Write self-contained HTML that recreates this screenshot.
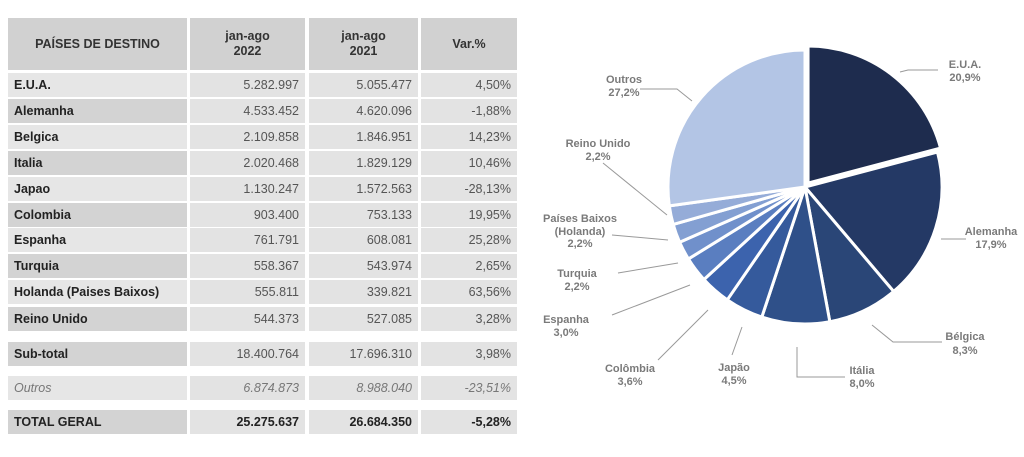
<!DOCTYPE html>
<html><head><meta charset="utf-8"><style>
body{margin:0;width:1024px;height:457px;background:#fff;font-family:"Liberation Sans",sans-serif;position:relative;overflow:hidden}
.c{position:absolute;box-sizing:border-box;font-size:12.5px;display:flex;align-items:center}
.h{background:#d1d1d1;color:#333;font-weight:bold;justify-content:center;text-align:center;line-height:15px}
.n{justify-content:flex-end;padding-right:6px;color:#555}
.f{padding-left:6px;color:#222;font-weight:bold}
svg{position:absolute;left:0;top:0}
</style></head><body>
<div id="t"></div>
<svg width="1024" height="457" id="s" font-family="Liberation Sans, sans-serif" font-size="11" font-weight="bold" fill="#7a7a7a"></svg>
<script>
var cols=[[8,179],[190,115],[309,109],[421,96]];
var t=document.getElementById('t'),h='';
var hd=['PAÍSES DE DESTINO','jan-ago<br>2022','jan-ago<br>2021','Var.%'];
for(var i=0;i<4;i++)h+='<div class="c h" style="left:'+cols[i][0]+'px;top:18px;width:'+cols[i][1]+'px;height:52px">'+hd[i]+'</div>';
var rows=[['E.U.A.','5.282.997','5.055.477','4,50%',73,0],['Alemanha','4.533.452','4.620.096','-1,88%',99,1],['Belgica','2.109.858','1.846.951','14,23%',125,0],['Italia','2.020.468','1.829.129','10,46%',151,1],['Japao','1.130.247','1.572.563','-28,13%',177,0],['Colombia','903.400','753.133','19,95%',203,1],['Espanha','761.791','608.081','25,28%',228,0],['Turquia','558.367','543.974','2,65%',254,1],['Holanda (Paises Baixos)','555.811','339.821','63,56%',280,0],['Reino Unido','544.373','527.085','3,28%',307,1],['Sub-total','18.400.764','17.696.310','3,98%',342,1,''],['Outros','6.874.873','8.988.040','-23,51%',376,0,'i'],['TOTAL GERAL','25.275.637','26.684.350','-5,28%',410,1,'b']];
rows.forEach(function(r){for(var i=0;i<4;i++){var bg=i==0&&r[5]?'#d3d3d3':(i==0?'#e6e6e6':'#e3e3e3');var st='left:'+cols[i][0]+'px;top:'+r[4]+'px;width:'+cols[i][1]+'px;height:24px;background:'+bg+';';if(r[6]=='i')st+='font-style:italic;font-weight:normal;color:#777;';if(r[6]=='b')st+='font-weight:bold;color:#222;';h+='<div class="c '+(i?'n':'f')+'" style="'+st+'">'+r[i]+'</div>';}});
t.innerHTML=h;
var s=document.getElementById('s'),o='';
var d=[[20.9,'#1e2c4e'],[17.9,'#243965'],[8.3,'#2a4677'],[8.0,'#2f5089'],[4.5,'#355a9c'],[3.6,'#3c63ad'],[3.0,'#5a7ec0'],[2.2,'#7090cb'],[2.2,'#839fd2'],[2.2,'#95acd8'],[27.2,'#b3c5e5']];
var cx=805,cy=187,R=137,a=0;
d.forEach(function(p,i){var a1=a+p[0]/100*2*Math.PI,m=(a+a1)/2,ox=0,oy=0;if(i==0){ox=5*Math.sin(m);oy=-5*Math.cos(m);}
var x0=cx+ox+R*Math.sin(a),y0=cy+oy-R*Math.cos(a),x1=cx+ox+R*Math.sin(a1),y1=cy+oy-R*Math.cos(a1);
o+='<path d="M'+(cx+ox)+','+(cy+oy)+'L'+x0+','+y0+'A'+R+','+R+' 0 '+(a1-a>Math.PI?1:0)+' 1 '+x1+','+y1+'Z" fill="'+p[1]+'" stroke="#fff" stroke-width="3" stroke-linejoin="round"/>';a=a1;});
var L=[[[900,72,908,70,938,70],965,[['E.U.A.',64],['20,9%',77]]],[[941,239,966,239],991,[['Alemanha',231],['17,9%',244]]],[[872,325,893,342,942,342],965,[['Bélgica',336],['8,3%',350]]],[[797,347,797,377,845,377],862,[['Itália',370],['8,0%',383]]],[[742,327,732,355],734,[['Japão',367],['4,5%',380]]],[[708,310,658,360],630,[['Colômbia',368],['3,6%',381]]],[[690,285,612,315],566,[['Espanha',319],['3,0%',332]]],[[678,263,618,273],577,[['Turquia',273],['2,2%',286]]],[[612,235,668,240],580,[['Países Baixos',218],['(Holanda)',231],['2,2%',243]]],[[603,163,667,215],598,[['Reino Unido',143],['2,2%',156]]],[[640,89,677,89,692,101],624,[['Outros',79],['27,2%',92]]]];
L.forEach(function(l){o+='<polyline points="'+l[0].join(',')+'" fill="none" stroke="#999" stroke-width="1"/>';l[2].forEach(function(q){o+='<text x="'+l[1]+'" y="'+(q[1]+4)+'" text-anchor="middle">'+q[0]+'</text>';});});
s.innerHTML=o;
</script>
</body></html>
